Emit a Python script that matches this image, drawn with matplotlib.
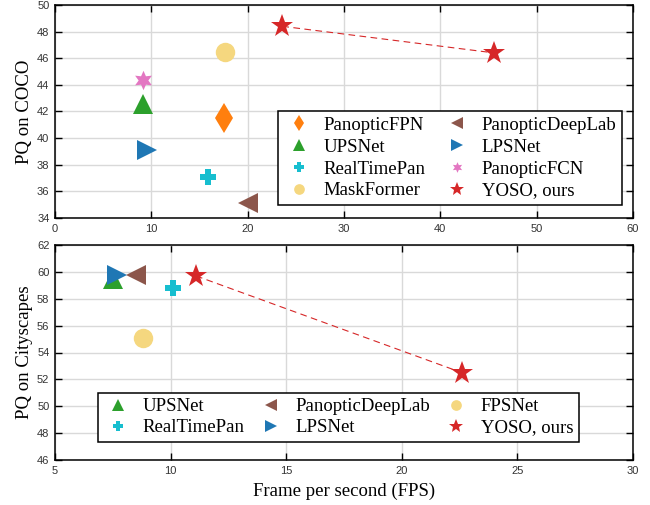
import matplotlib.pyplot as plt
from matplotlib.lines import Line2D

plt.rcParams['font.family'] = ['Liberation Sans', 'DejaVu Sans']

# COCO panel
coco_names = ['PanopticFPN', 'UPSNet', 'RealTimePan', 'MaskFormer',
              'PanopticDeepLab', 'LPSNet', 'PanopticFCN']
coco_fps = [17.5, 9.1, 15.9, 17.6, 20.0, 9.6, 9.1]
coco_pq = [41.5, 42.6, 37.1, 46.5, 35.1, 39.1, 44.4]
coco_yoso_fps = [23.6, 45.6]
coco_yoso_pq = [48.4, 46.4]

# Cityscapes panel
city_names = ['UPSNet', 'RealTimePan', 'PanopticDeepLab', 'LPSNet', 'FPSNet']
city_fps = [7.5, 10.1, 8.5, 7.7, 8.8]
city_pq = [59.5, 58.8, 59.8, 59.8, 55.1]
city_yoso_fps = [11.1, 22.6]
city_yoso_pq = [59.7, 52.5]

style = {
    'PanopticFPN': ('d', '#ff7f0e', 15),
    'UPSNet': ('^', '#2ca02c', 15),
    'RealTimePan': ('P', '#17becf', 12),
    'MaskFormer': ('o', '#f5d77f', 14),
    'FPSNet': ('o', '#f5d77f', 14),
    'PanopticDeepLab': ('<', '#8c564b', 15),
    'LPSNet': ('>', '#1f77b4', 15),
    'PanopticFCN': ((6, 1, 0), '#e377c2', 14),
}
yoso_color = '#d62728'
serif = 'Liberation Serif'
fs = 13.5

fig = plt.figure(figsize=(6.5, 5.05), dpi=100)
ax1 = fig.add_axes([55 / 650, 1 - 218 / 505, 578 / 650, 213 / 505])
ax2 = fig.add_axes([55 / 650, 1 - 460 / 505, 578 / 650, 215 / 505])


def draw(ax, names, xs, ys, yx, yy):
    for n, x, y in zip(names, xs, ys):
        m, c, s = style[n]
        ax.plot(x, y, linestyle='none', marker=m, color=c, markersize=s,
                markeredgewidth=0, zorder=3)
    ax.plot(yx, yy, '--', color=yoso_color, lw=0.8, dashes=(6, 4), zorder=2)
    ax.plot(yx, yy, linestyle='none', marker='*', color=yoso_color,
            markersize=17, markeredgewidth=0, zorder=4)
    ax.grid(True, color='#d9d9d9', lw=1)
    ax.set_axisbelow(True)
    ax.tick_params(direction='in', top=True, right=True, length=5,
                   width=1, labelsize=8, labelcolor='#333333', pad=4)
    for sp in ax.spines.values():
        sp.set_linewidth(1.1)


def handles(names):
    hs = []
    for n in names:
        if n == 'YOSO':
            hs.append(Line2D([], [], linestyle='none', marker='*', color=yoso_color,
                             markersize=10, markeredgewidth=0, label='YOSO, ours'))
        else:
            m, c, s = style[n]
            hs.append(Line2D([], [], linestyle='none', marker=m, color=c,
                             markersize=s * 0.55, markeredgewidth=0, label=n))
    return hs


draw(ax1, coco_names, coco_fps, coco_pq, coco_yoso_fps, coco_yoso_pq)
ax1.set_xlim(0, 60)
ax1.set_ylim(34, 50)
ax1.set_xticks(range(0, 61, 10))
ax1.set_yticks(range(34, 51, 2))
ax1.set_ylabel('PQ on COCO', family=serif, fontsize=fs, labelpad=3)
ax1.legend(handles=handles(coco_names + ['YOSO']), ncol=2, loc='lower right',
           bbox_to_anchor=(0.981, 0.061), prop={'family': serif, 'size': fs},
           frameon=True, fancybox=False, edgecolor='black', framealpha=1,
           handletextpad=0.5, columnspacing=0.9, labelspacing=0.25,
           borderpad=0.3, handlelength=1.6,
           borderaxespad=0).get_frame().set_linewidth(1.1)

draw(ax2, city_names, city_fps, city_pq, city_yoso_fps, city_yoso_pq)
ax2.set_xlim(5, 30)
ax2.set_ylim(46, 62)
ax2.set_xticks(range(5, 31, 5))
ax2.set_yticks(range(46, 63, 2))
ax2.set_ylabel('PQ on Cityscapes', family=serif, fontsize=fs, labelpad=3)
ax2.set_xlabel('Frame per second (FPS)', family=serif, fontsize=fs, labelpad=5)
ax2.legend(handles=handles(city_names + ['YOSO']), ncol=3, loc='lower left',
           bbox_to_anchor=(0.074, 0.084), prop={'family': serif, 'size': fs},
           frameon=True, fancybox=False, edgecolor='black', framealpha=1,
           handletextpad=0.5, columnspacing=0.6, labelspacing=0.2,
           borderpad=0.3, handlelength=1.6,
           borderaxespad=0).get_frame().set_linewidth(1.1)

fig.savefig('out.png', dpi=100)
